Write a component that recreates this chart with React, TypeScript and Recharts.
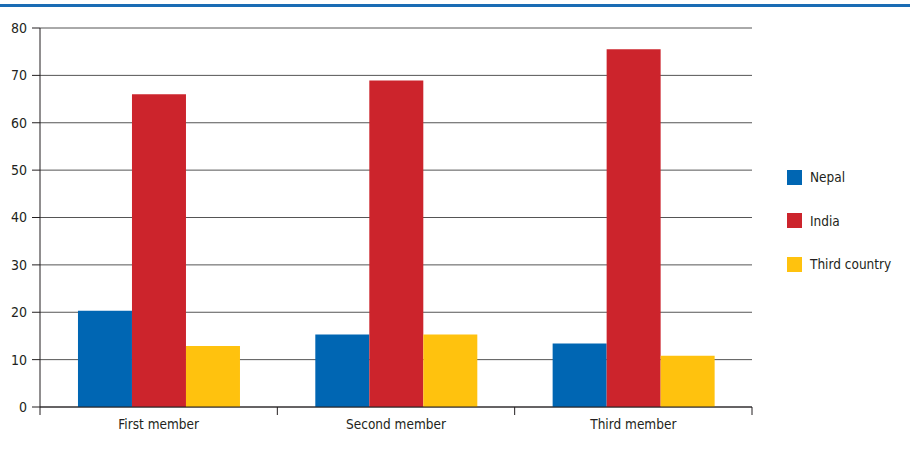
import { BarChart, Bar, XAxis, YAxis, CartesianGrid } from "recharts"

// origin of household members
const members = ["First member", "Second member", "Third member"]
const nepal = [20.3, 15.3, 13.4]
const india = [66.0, 68.9, 75.5]
const thirdCountry = [12.9, 15.3, 10.8]
const yTicks = [0, 10, 20, 30, 40, 50, 60, 70, 80]

const series = [
  { key: "nepal", name: "Nepal", color: "#0066b3" },
  { key: "india", name: "India", color: "#cc242c" },
  { key: "third", name: "Third country", color: "#ffc20e" },
]

const data = members.map((member, i) => ({
  member,
  nepal: nepal[i],
  india: india[i],
  third: thirdCountry[i],
}))

const FONT = '"DejaVu Sans Condensed", "Liberation Sans Narrow", sans-serif'
const INK = "#231f20"
const X_TICK_SIZE = 9
const X_TICK_MARGIN = 3
const EDGE_MARK = 8

// category label plus the small marks at the category boundaries
const CategoryTick = (props: any) => {
  const { x, y, payload, index, visibleTicksCount } = props
  const half = payload?.offset ?? 0
  const top = y - X_TICK_SIZE - X_TICK_MARGIN
  const isLast = index === visibleTicksCount - 1
  return (
    <g>
      <line x1={x - half} x2={x - half} y1={top} y2={top + EDGE_MARK} stroke={INK} />
      {isLast && (
        <line x1={x + half} x2={x + half} y1={top} y2={top + EDGE_MARK} stroke={INK} />
      )}
      <text
        x={x}
        y={y}
        dy="0.71em"
        textAnchor="middle"
        fill={INK}
        fontSize={13.5}
        fontFamily={FONT}
      >
        {payload.value}
      </text>
    </g>
  )
}

export default function App() {
  return (
    <div
      style={{
        position: "absolute",
        left: 0,
        top: 0,
        width: 910,
        height: 453,
        background: "#fff",
        fontFamily: FONT,
      }}
    >
      {/* top rule */}
      <div
        style={{
          position: "absolute",
          left: 0,
          top: 4,
          width: 910,
          height: 3,
          background: "#1a6cb4",
        }}
      />

      <BarChart
        width={910}
        height={453}
        data={data}
        margin={{ top: 28, right: 158, bottom: 16, left: 0 }}
        barCategoryGap="16%"
        barGap={0}
      >
        <CartesianGrid vertical={false} stroke="#555" />
        <XAxis
          dataKey="member"
          tickLine={false}
          tickSize={X_TICK_SIZE}
          tickMargin={X_TICK_MARGIN}
          axisLine={{ stroke: INK }}
          tick={CategoryTick}
          interval={0}
          height={30}
        />
        <YAxis
          width={40}
          domain={[0, 80]}
          ticks={yTicks}
          tickSize={8}
          tickMargin={5}
          axisLine={{ stroke: INK }}
          tickLine={{ stroke: INK }}
          tick={{ fill: INK, fontSize: 14, fontFamily: FONT }}
        />
        {series.map((s) => (
          <Bar
            key={s.key}
            dataKey={s.key}
            name={s.name}
            fill={s.color}
            isAnimationActive={false}
          />
        ))}
      </BarChart>

      {/* legend */}
      <div style={{ position: "absolute", left: 787, top: 166 }}>
        {series.map((s) => (
          <div
            key={s.key}
            style={{
              display: "flex",
              alignItems: "center",
              height: 22,
              marginBottom: 21.5,
              color: INK,
              fontSize: 13.5,
            }}
          >
            <span
              style={{
                width: 15,
                height: 15,
                background: s.color,
                marginRight: 8,
                display: "inline-block",
              }}
            />
            {s.name}
          </div>
        ))}
      </div>
    </div>
  )
}
